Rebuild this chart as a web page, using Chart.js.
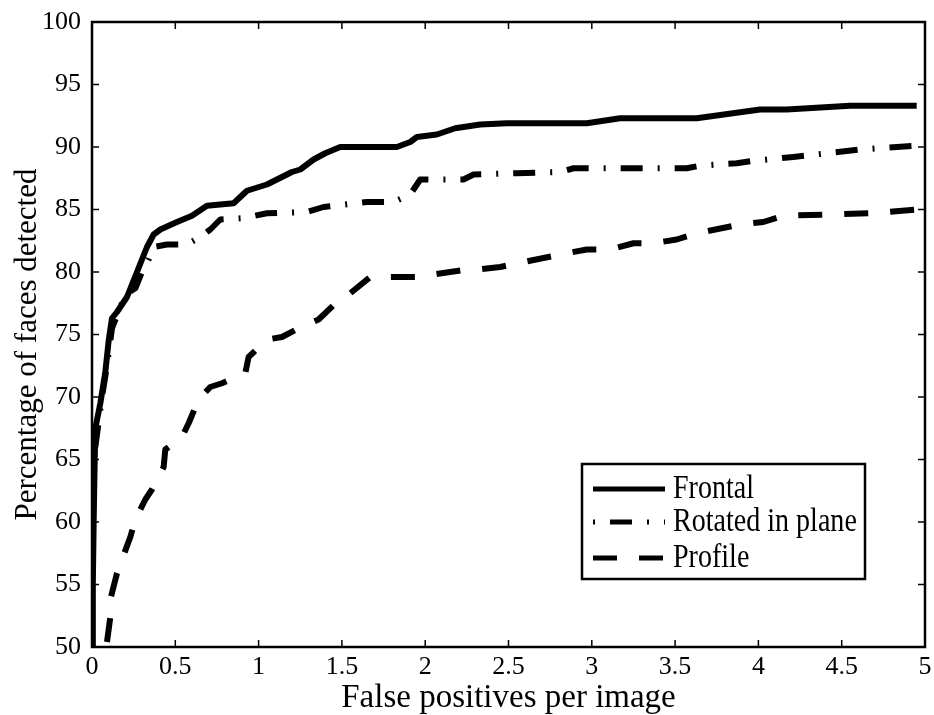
<!DOCTYPE html>
<html>
<head>
<meta charset="utf-8">
<script src="https://cdn.jsdelivr.net/npm/chart.js@4.4.0/dist/chart.umd.min.js"></script>
<style>
html, body { margin: 0; padding: 0; background: #fff; }
#wrap { width: 934px; height: 715px; position: relative; }
</style>
</head>
<body>
<div id="wrap"><canvas id="chart"></canvas></div>
<script>
const seriesNames = ['Frontal', 'Rotated in plane', 'Profile']
const xTitle = 'False positives per image'
const yTitle = 'Percentage of faces detected'

const frontalX = [0, 0.005, 0.01, 0.015, 0.02, 0.05, 0.08, 0.1, 0.12, 0.15, 0.21, 0.27, 0.33, 0.37, 0.41, 0.51, 0.6, 0.69, 0.85, 0.93, 1.05, 1.2, 1.25, 1.33, 1.4, 1.49, 1.83, 1.91, 1.95, 2.07, 2.18, 2.33, 2.49, 2.97, 3.17, 3.63, 4.01, 4.17, 4.55, 4.95]
const frontalY = [50, 55, 60, 64, 67.5, 69.5, 72, 74.5, 76.3, 76.8, 78, 80, 82, 83, 83.4, 84, 84.5, 85.3, 85.5, 86.5, 87, 88, 88.2, 89, 89.5, 90, 90, 90.4, 90.8, 91, 91.5, 91.8, 91.9, 91.9, 92.3, 92.3, 93, 93, 93.3, 93.3]

const rotatedX = [0.02, 0.06, 0.09, 0.12, 0.2, 0.26, 0.3, 0.34, 0.37, 0.45, 0.57, 0.65, 0.71, 0.77, 0.9, 1.05, 1.29, 1.39, 1.65, 1.81, 1.91, 1.97, 2.07, 2.23, 2.29, 2.55, 2.81, 2.89, 3.17, 3.57, 3.65, 3.87, 3.97, 4.21, 4.41, 4.61, 4.95]
const rotatedY = [66, 70, 72.5, 75.5, 78.2, 78.7, 80, 81, 82, 82.2, 82.2, 82.8, 83.4, 84.2, 84.3, 84.7, 84.8, 85.2, 85.6, 85.6, 86.2, 87.4, 87.4, 87.4, 87.8, 87.9, 88, 88.3, 88.3, 88.3, 88.5, 88.7, 88.9, 89.2, 89.5, 89.8, 90.1]

const profileX = [0.09, 0.11, 0.11, 0.15, 0.18, 0.23, 0.26, 0.32, 0.36, 0.43, 0.44, 0.54, 0.58, 0.64, 0.71, 0.78, 0.92, 0.94, 1.05, 1.14, 1.27, 1.36, 1.47, 1.55, 1.67, 1.99, 2.05, 2.25, 2.32, 2.45, 2.59, 2.85, 2.97, 3.11, 3.25, 3.37, 3.51, 3.63, 3.89, 4.03, 4.15, 4.41, 4.68, 4.95]
const profileY = [50.4, 52.4, 53.8, 55.9, 57, 58.8, 60.2, 61.8, 62.6, 64.4, 65.8, 66.8, 67.9, 69.8, 70.8, 71.1, 71.9, 73.2, 74.6, 74.8, 75.7, 76.2, 77.6, 78.3, 79.6, 79.6, 79.8, 80.2, 80.2, 80.4, 80.8, 81.5, 81.8, 81.8, 82.3, 82.3, 82.6, 83.1, 83.8, 84.0, 84.5, 84.6, 84.7, 85.0]

const xMin = 0, xMax = 5, xStep = 0.5
const yMin = 50, yMax = 100, yStep = 5

const serif = '"Liberation Serif", "Times New Roman", serif'

function toPoints(xs, ys) {
    return xs.map((x, i) => ({ x: x, y: ys[i] }))
}

// frame with inward ticks on all four sides, the y title and the boxed legend
const framePlugin = {
    id: 'frame',
    beforeDraw(chart) {
        const ctx = chart.ctx
        ctx.save()
        ctx.fillStyle = '#fff'
        ctx.fillRect(0, 0, chart.width, chart.height)
        ctx.restore()
    },
    afterDatasetsDraw(chart) {
        const { ctx, chartArea: a, scales: { x, y } } = chart
        ctx.save()
        ctx.strokeStyle = '#000'
        ctx.lineWidth = 1.5
        ctx.beginPath()
        x.ticks.forEach(t => {
            const px = x.getPixelForValue(t.value)
            ctx.moveTo(px, a.bottom); ctx.lineTo(px, a.bottom - 7)
            ctx.moveTo(px, a.top); ctx.lineTo(px, a.top + 7)
        })
        y.ticks.forEach(t => {
            const py = y.getPixelForValue(t.value)
            ctx.moveTo(a.left, py); ctx.lineTo(a.left + 7, py)
            ctx.moveTo(a.right, py); ctx.lineTo(a.right - 7, py)
        })
        ctx.stroke()
        ctx.lineWidth = 2.5
        ctx.strokeRect(a.left, a.top, a.right - a.left, a.bottom - a.top)

        // y axis title, a little below the axis middle as in the original
        ctx.save()
        ctx.translate(36, (a.top + a.bottom) / 2 + 10)
        ctx.rotate(-Math.PI / 2)
        ctx.fillStyle = '#000'
        ctx.font = '31px ' + serif
        ctx.textAlign = 'center'
        ctx.textBaseline = 'alphabetic'
        ctx.fillText(yTitle, 0, 0)
        ctx.restore()

        // legend box
        const bx = a.right - 343, by = a.bottom - 183, bw = 283, bh = 115
        ctx.fillStyle = '#fff'
        ctx.fillRect(bx, by, bw, bh)
        ctx.lineWidth = 2.5
        ctx.strokeRect(bx, by, bw, bh)
        const rows = [25, 58, 94]
        chart.data.datasets.forEach((ds, i) => {
            const ly = by + rows[i]
            ctx.save()
            ctx.lineWidth = 5
            ctx.lineCap = 'butt'
            ctx.setLineDash(ds.borderDash || [])
            ctx.lineDashOffset = ds.legendDashOffset || 0
            ctx.beginPath()
            ctx.moveTo(bx + 11, ly)
            ctx.lineTo(bx + 83, ly)
            ctx.stroke()
            ctx.restore()
            ctx.save()
            ctx.translate(bx + 91, ly + 9)
            ctx.scale(0.85, 1)
            ctx.fillStyle = '#000'
            ctx.font = '33px ' + serif
            ctx.textBaseline = 'alphabetic'
            ctx.fillText(ds.label, 0, 0)
            ctx.restore()
        })
        ctx.restore()
    }
}

const datasets = [
    { label: seriesNames[0], data: toPoints(frontalX, frontalY), borderDash: [] },
    { label: seriesNames[1], data: toPoints(rotatedX, rotatedY), borderDash: [22, 15, 2, 15], legendDashOffset: 37 },
    { label: seriesNames[2], data: toPoints(profileX, profileY), borderDash: [24, 22] }
].map(ds => Object.assign(ds, {
    borderColor: '#000',
    backgroundColor: '#000',
    borderWidth: 6,
    borderCapStyle: 'butt',
    borderJoinStyle: 'round',
    pointRadius: 0,
    tension: 0,
    fill: false
}))

new Chart(document.getElementById('chart'), {
    type: 'line',
    data: { datasets },
    plugins: [framePlugin],
    options: {
        responsive: true,
        maintainAspectRatio: false,
        animation: false,
        layout: { padding: { top: 22, right: 9, left: 0, bottom: 0 } },
        plugins: {
            legend: { display: false },
            tooltip: { enabled: false }
        },
        scales: {
            x: {
                type: 'linear',
                min: xMin,
                max: xMax,
                grid: { display: false },
                border: { display: false },
                ticks: {
                    stepSize: xStep, padding: -3, color: '#000', maxRotation: 0,
                    font: { family: serif, size: 26 },
                    callback: v => String(v)
                },
                title: { display: true, text: xTitle, color: '#000', font: { family: serif, size: 33, lineHeight: 1 }, padding: { top: 0, bottom: 0 } },
                afterFit: s => { s.height = 68 }
            },
            y: {
                type: 'linear',
                min: yMin,
                max: yMax,
                grid: { display: false },
                border: { display: false },
                ticks: { stepSize: yStep, padding: 3, color: '#000', font: { family: serif, size: 26 } },
                title: { display: false },
                afterFit: s => { s.width = 92 }
            }
        }
    }
})
</script>
</body>
</html>
